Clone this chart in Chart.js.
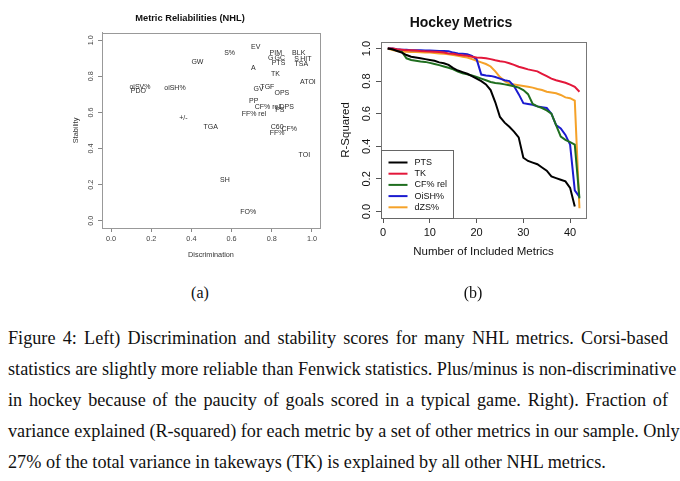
<!DOCTYPE html>
<html><head><meta charset="utf-8">
<script src="https://cdn.jsdelivr.net/npm/chart.js@4"></script>
<style>
html,body{margin:0;padding:0;background:#fff;width:680px;height:481px;overflow:hidden;}
canvas{position:absolute;top:0;}
#c1{left:60px;}
#c2{left:336px;}
.sub{position:absolute;top:283px;width:40px;margin-left:-20px;text-align:center;font-family:"Liberation Serif",serif;font-size:16px;line-height:20px;color:#111;}
.cap{position:absolute;left:8px;width:660px;font-family:"Liberation Serif",serif;color:#111;text-align:justify;text-align-last:justify;white-space:nowrap;line-height:20px;}
.cap.last{text-align-last:left;}
</style></head><body>
<canvas id="c1" width="302" height="275"></canvas>
<canvas id="c2" width="294" height="275"></canvas>
<div class="sub" style="left:200px">(a)</div>
<div class="sub" style="left:473px">(b)</div>
<div id="caption"></div>
<script>
// ---------- Left panel data ----------
const metricNames = ["EV","S%","GW","PIM","G","GC","PTS","BLK","S","HIT","TSA","A","TK","ATOI","GV","TGF","OPS","PP","CF% rel","DPS","PS","FF% rel","TGA","C60","CF%","FF%","+/-","oiSV%","PDO","oiSH%","TOI","SH","FO%"];
const discrimination = [0.72,0.59,0.43,0.82,0.795,0.84,0.834,0.934,0.923,0.97,0.947,0.708,0.818,0.98,0.734,0.778,0.85,0.71,0.778,0.874,0.84,0.711,0.496,0.827,0.887,0.827,0.36,0.144,0.136,0.318,0.962,0.567,0.683];
const stability = [0.96,0.93,0.877,0.927,0.90,0.90,0.871,0.926,0.897,0.897,0.867,0.847,0.812,0.77,0.728,0.739,0.705,0.663,0.632,0.632,0.613,0.589,0.521,0.518,0.507,0.485,0.567,0.742,0.72,0.733,0.365,0.227,0.051];
const unitTicks = [0,0.2,0.4,0.6,0.8,1.0];

// ---------- Right panel data ----------
const includedMetrics = [1,2,3,4,5,6,7,8,9,10,11,12,13,14,15,16,17,18,19,20,21,22,23,24,25,26,27,28,29,30,31,32,33,34,35,36,37,38,39,40,41,42];
const seriesNames = ["PTS","TK","CF% rel","OiSH%","dZS%"];
const seriesColors = ["#000000","#E3173A","#1F6E1F","#1B1BD0","#F5A229"];
const ptsR2 = [1.0,0.995,0.985,0.975,0.96,0.95,0.945,0.94,0.935,0.93,0.925,0.915,0.91,0.9,0.88,0.865,0.855,0.845,0.83,0.815,0.8,0.78,0.745,0.67,0.58,0.545,0.52,0.49,0.455,0.33,0.31,0.3,0.29,0.27,0.25,0.215,0.205,0.195,0.185,0.145,0.03];
const tkR2 = [1.0,1.0,0.995,0.993,0.99,0.99,0.988,0.985,0.983,0.982,0.98,0.978,0.975,0.97,0.968,0.962,0.958,0.955,0.95,0.945,0.943,0.94,0.935,0.928,0.922,0.918,0.91,0.9,0.888,0.88,0.872,0.866,0.86,0.845,0.83,0.815,0.805,0.798,0.79,0.778,0.765,0.735];
const cfRelR2 = [1.0,0.995,0.99,0.98,0.94,0.93,0.925,0.92,0.918,0.912,0.905,0.898,0.89,0.882,0.872,0.858,0.848,0.842,0.835,0.825,0.815,0.805,0.795,0.788,0.785,0.78,0.775,0.768,0.76,0.745,0.72,0.66,0.645,0.635,0.62,0.6,0.53,0.46,0.44,0.425,0.41,0.08];
const oiShR2 = [1.0,1.0,0.995,0.993,0.992,0.99,0.99,0.99,0.988,0.988,0.987,0.985,0.985,0.983,0.975,0.97,0.968,0.965,0.955,0.935,0.84,0.835,0.832,0.825,0.815,0.805,0.8,0.77,0.72,0.665,0.66,0.655,0.645,0.64,0.635,0.6,0.53,0.51,0.47,0.41,0.13,0.09];
const dzsR2 = [1.0,0.99,0.985,0.98,0.98,0.978,0.978,0.977,0.975,0.975,0.972,0.97,0.968,0.965,0.96,0.955,0.95,0.945,0.935,0.925,0.915,0.905,0.89,0.86,0.825,0.8,0.785,0.78,0.775,0.77,0.765,0.76,0.752,0.745,0.735,0.73,0.725,0.715,0.7,0.695,0.68,0.02];
const countTicks = [0,10,20,30,40];

// ---------- Caption ----------
const captionLines = [
 "Figure 4:  Left) Discrimination and stability scores for many NHL metrics.  Corsi-based",
 "statistics are slightly more reliable than Fenwick statistics. Plus/minus is non-discriminative",
 "in hockey because of the paucity of goals scored in a typical game.  Right).  Fraction of",
 "variance explained (R-squared) for each metric by a set of other metrics in our sample.  Only",
 "27% of the total variance in takeways (TK) is explained by all other NHL metrics."
];
const captionY = [338,369,400,431,462];

const SANS = '"Liberation Sans", Arial, sans-serif';

const boxPlugin = {
  id: 'box',
  afterDraw(chart, args, opts) {
    const a = chart.chartArea, c = chart.ctx;
    c.save(); c.strokeStyle = opts.color || '#888'; c.lineWidth = 1;
    c.strokeRect(Math.round(a.left)+0.5, Math.round(a.top)+0.5, Math.round(a.right-a.left), Math.round(a.bottom-a.top));
    c.restore();
  }
};

const textLabelPlugin = {
  id: 'textLabels',
  afterDatasetsDraw(chart) {
    const meta = chart.getDatasetMeta(0), c = chart.ctx;
    c.save();
    c.font = '7px ' + SANS; c.fillStyle = '#2a2a2a';
    c.textAlign = 'center'; c.textBaseline = 'middle';
    meta.data.forEach((pt, i) => c.fillText(metricNames[i], pt.x, pt.y));
    c.restore();
  }
};

const legendPlugin = {
  id: 'rLegend',
  afterDraw(chart) {
    const a = chart.chartArea, c = chart.ctx;
    const x0 = Math.round(a.left)+0.5, w = 72, h = 68, y0 = Math.round(a.bottom) - h + 0.5;
    c.save();
    c.fillStyle = '#fff'; c.fillRect(x0, y0, w, h);
    c.strokeStyle = '#666'; c.lineWidth = 1; c.strokeRect(x0, y0, w, h);
    c.font = '9px ' + SANS; c.textBaseline = 'middle'; c.textAlign = 'left';
    chart.data.datasets.forEach((ds, i) => {
      const y = y0 + 12 + i * 11.2;
      c.strokeStyle = ds.borderColor; c.lineWidth = 2;
      c.beginPath(); c.moveTo(x0 + 7, y); c.lineTo(x0 + 26, y); c.stroke();
      c.fillStyle = '#111'; c.fillText(ds.label, x0 + 33, y);
    });
    c.restore();
  }
};

function fixedTicks(vals) { return (scale) => { scale.ticks = vals.map(v => ({value: v})); }; }

// ---------- Left chart ----------
new Chart(document.getElementById('c1'), {
  type: 'scatter',
  data: { datasets: [{ data: discrimination.map((d, i) => ({x: d, y: stability[i]})), pointRadius: 0, pointHoverRadius: 0 }] },
  options: {
    responsive: false, animation: false, events: [],
    layout: { padding: { top: 0, left: 0, right: 42, bottom: 0 } },
    plugins: {
      legend: { display: false }, tooltip: { enabled: false },
      title: { display: true, text: 'Metric Reliabilities (NHL)', color: '#111', font: { family: SANS, size: 9.3, weight: 'bold' }, padding: { top: 12.4, bottom: 9.4 } },
      box: { color: '#999' }
    },
    scales: {
      x: {
        type: 'linear', min: -0.045, max: 1.04,
        afterBuildTicks: fixedTicks(unitTicks),
        afterFit: (s) => { s.height = 47; },
        grid: { drawOnChartArea: false, drawTicks: true, tickLength: 4, color: '#888' },
        border: { display: true, color: '#999' },
        ticks: { color: '#444', font: { family: SANS, size: 7.3 }, padding: 3, maxRotation: 0, callback: (v) => v.toFixed(1) },
        title: { display: true, text: 'Discrimination', color: '#333', font: { family: SANS, size: 7.3 }, padding: { top: 0, bottom: 15.6 } }
      },
      y: {
        type: 'linear', min: -0.04, max: 1.04,
        afterBuildTicks: fixedTicks(unitTicks),
        afterFit: (s) => { s.width = 42; },
        grid: { drawOnChartArea: false, drawTicks: true, tickLength: 4, color: '#888' },
        border: { display: true, color: '#999' },
        ticks: { color: '#444', font: { family: SANS, size: 7.3 }, padding: 2, minRotation: 90, maxRotation: 90, crossAlign: 'center', callback: (v) => v.toFixed(1) },
        title: { display: true, text: 'Stability', color: '#333', font: { family: SANS, size: 7.3 }, padding: { top: 11.6, bottom: 0 } }
      }
    }
  },
  plugins: [boxPlugin, textLabelPlugin]
});

// ---------- Right chart ----------
const r2Series = [ptsR2, tkR2, cfRelR2, oiShR2, dzsR2];
new Chart(document.getElementById('c2'), {
  type: 'line',
  data: {
    datasets: r2Series.map((vals, k) => ({
      label: seriesNames[k],
      data: vals.map((v, i) => ({x: includedMetrics[i], y: v})),
      borderColor: seriesColors[k], borderWidth: 2, pointRadius: 0, tension: 0, fill: false
    }))
  },
  options: {
    responsive: false, animation: false, events: [],
    layout: { padding: { top: 0, left: 0, right: 44, bottom: 0 } },
    plugins: {
      legend: { display: false }, tooltip: { enabled: false },
      title: { display: true, text: 'Hockey Metrics', color: '#111', font: { family: SANS, size: 14, weight: 'bold' }, padding: { top: 14.6, bottom: 10.6 } },
      box: { color: '#777' }
    },
    scales: {
      x: {
        type: 'linear', min: -0.45, max: 43.4,
        afterBuildTicks: fixedTicks(countTicks),
        afterFit: (s) => { s.height = 57; },
        grid: { drawOnChartArea: false, drawTicks: true, tickLength: 5, color: '#555' },
        border: { display: true, color: '#777' },
        ticks: { color: '#111', font: { family: SANS, size: 11 }, padding: 3, maxRotation: 0 },
        title: { display: true, text: 'Number of Included Metrics', color: '#111', font: { family: SANS, size: 11.5 }, padding: { top: 0, bottom: 16 } }
      },
      y: {
        type: 'linear', min: -0.04, max: 1.04,
        afterBuildTicks: fixedTicks(unitTicks),
        afterFit: (s) => { s.width = 45; },
        grid: { drawOnChartArea: false, drawTicks: true, tickLength: 5, color: '#555' },
        border: { display: true, color: '#777' },
        ticks: { color: '#111', font: { family: SANS, size: 11 }, padding: 1.5, minRotation: 90, maxRotation: 90, crossAlign: 'center', callback: (v) => v.toFixed(1) },
        title: { display: true, text: 'R-Squared', color: '#111', font: { family: SANS, size: 11.5 }, padding: { top: 3, bottom: 0 } }
      }
    }
  },
  plugins: [boxPlugin, legendPlugin]
});

// ---------- Caption ----------
(function () {
  const mc = document.createElement('canvas').getContext('2d');
  mc.font = '20px "Liberation Serif"';
  const w = mc.measureText(captionLines[4]).width;
  const fs = 20 * 599 / w;
  const host = document.getElementById('caption');
  captionLines.forEach((t, i) => {
    const d = document.createElement('div');
    d.className = 'cap' + (i === captionLines.length - 1 ? ' last' : '');
    d.style.fontSize = fs.toFixed(2) + 'px';
    d.style.top = (captionY[i] - 10) + 'px';
    d.textContent = t;
    host.appendChild(d);
  });
})();
</script>
</body></html>
